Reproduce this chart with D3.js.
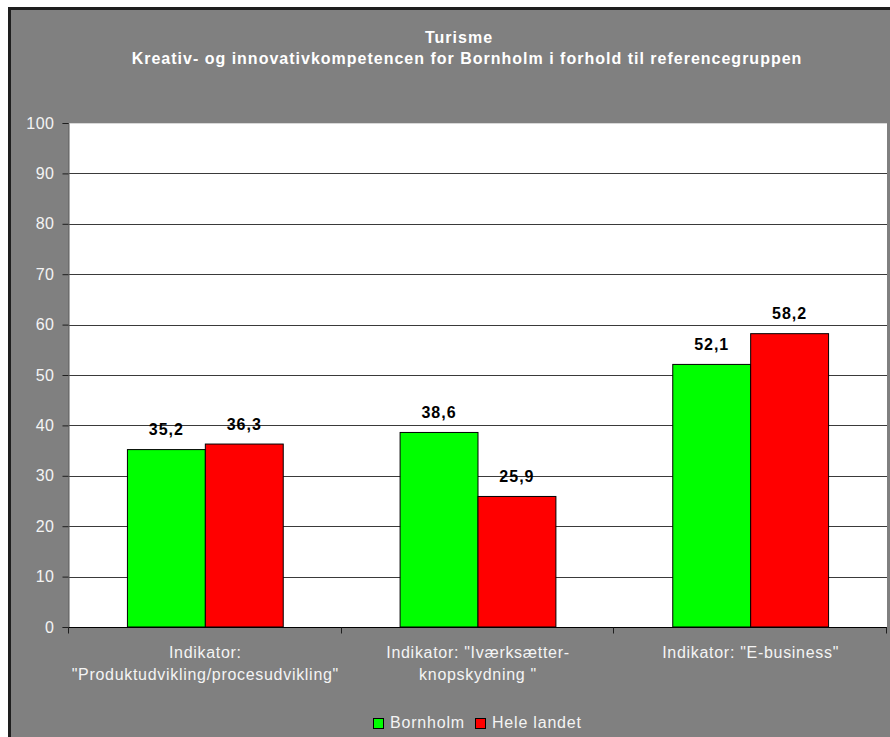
<!DOCTYPE html>
<html>
<head>
<meta charset="utf-8">
<script src="https://cdn.jsdelivr.net/npm/d3@7"></script>
<style>
  html, body { margin: 0; padding: 0; background: #fff; }
  svg { display: block; font-family: "Liberation Sans", Arial, sans-serif; }
</style>
</head>
<body>
<svg id="chart" width="890" height="737"></svg>
<script>
// Chart data
const categories = [
  ["Indikator:", "\"Produktudvikling/procesudvikling\""],
  ["Indikator: \"Iværksætter-", "knopskydning \""],
  ["Indikator: \"E-business\""]
];
const seriesNames = ["Bornholm", "Hele landet"];
const bornholm = [35.2, 38.6, 52.1];
const heleLandet = [36.3, 25.9, 58.2];
const yTicks = [0, 10, 20, 30, 40, 50, 60, 70, 80, 90, 100];
const titleLines = ["Turisme", "Kreativ- og innovativkompetencen for Bornholm i forhold til referencegruppen"];
const colors = ["#00ff00", "#ff0000"];

const svg = d3.select("#chart");

// Outer chart frame (runs past the window on the right and bottom)
svg.append("rect")
  .attr("x", 9.5).attr("y", 8.5)
  .attr("width", 1000).attr("height", 1000)
  .attr("fill", "#808080")
  .attr("stroke", "#1e1e1e").attr("stroke-width", 3);

const plot = { left: 69, right: 887, top: 123, bottom: 627 };

const x0 = d3.scaleBand()
  .domain(d3.range(categories.length))
  .range([plot.left, plot.right])
  .paddingInner(0).paddingOuter(0);

// two bars per group with a 150% gap between groups
const x1 = d3.scaleBand()
  .domain(d3.range(seriesNames.length))
  .range([0, x0.bandwidth()])
  .paddingOuter(0.75).paddingInner(0);

const y = d3.scaleLinear().domain([0, 100]).range([plot.bottom, plot.top]);

// Plot background
svg.append("rect")
  .attr("x", plot.left).attr("y", plot.top)
  .attr("width", plot.right - plot.left).attr("height", plot.bottom - plot.top)
  .attr("fill", "#ffffff");

// Gridlines
svg.append("g")
  .selectAll("line")
  .data(yTicks.filter(t => t > 0))
  .join("line")
  .attr("x1", plot.left).attr("x2", plot.right)
  .attr("y1", d => Math.round(y(d)) + 0.5).attr("y2", d => Math.round(y(d)) + 0.5)
  .attr("stroke", d => d === 100 ? "#d8d8d8" : "#3a3a3a")
  .attr("stroke-width", 1);

// Y axis
const yAxis = svg.append("g")
  .attr("transform", `translate(${plot.left - 0.5},0)`)
  .call(d3.axisLeft(y).tickValues(yTicks).tickSize(6).tickPadding(8));
yAxis.select(".domain").attr("stroke", "#5a5a5a");
yAxis.selectAll(".tick line").attr("stroke", "#1e1e1e");
yAxis.selectAll(".tick text")
  .attr("fill", "#f4f4f4")
  .attr("font-size", 16)
  .attr("letter-spacing", 0.5)
  .attr("font-family", "Liberation Sans, Arial, sans-serif");

// Bars
const groups = svg.append("g")
  .selectAll("g")
  .data(d3.range(categories.length))
  .join("g")
  .attr("transform", i => `translate(${x0(i)},0)`);

const series = [bornholm, heleLandet];
groups.selectAll("rect")
  .data(i => series.map((s, k) => ({ k, v: s[i] })))
  .join("rect")
  .attr("x", d => x1(d.k))
  .attr("y", d => y(d.v))
  .attr("width", x1.bandwidth())
  .attr("height", d => y(0) - y(d.v))
  .attr("fill", d => colors[d.k])
  .attr("stroke", "#000")
  .attr("stroke-width", 1);

// Value labels
groups.selectAll("text.val")
  .data(i => series.map((s, k) => ({ k, v: s[i] })))
  .join("text")
  .attr("class", "val")
  .attr("x", d => x1(d.k) + x1.bandwidth() / 2)
  .attr("y", d => y(d.v) - 14.5)
  .attr("text-anchor", "middle")
  .attr("font-size", 16)
  .attr("letter-spacing", 1)
  .attr("font-weight", "bold")
  .attr("fill", "#000")
  .text(d => d3.format(".1f")(d.v).replace(".", ","));

// X axis
const xAxis = svg.append("g")
  .attr("transform", `translate(0,${plot.bottom + 0.5})`);
xAxis.append("line")
  .attr("x1", plot.left).attr("x2", plot.right)
  .attr("stroke", "#000");
xAxis.selectAll("line.tick")
  .data(d3.range(categories.length + 1))
  .join("line")
  .attr("class", "tick")
  .attr("x1", i => Math.round(plot.left + i * x0.bandwidth()) - 0.5)
  .attr("x2", i => Math.round(plot.left + i * x0.bandwidth()) - 0.5)
  .attr("y1", 0).attr("y2", 6)
  .attr("stroke", "#1e1e1e");

// Category labels
const catText = svg.append("g")
  .selectAll("text")
  .data(categories)
  .join("text")
  .attr("text-anchor", "middle")
  .attr("font-size", 16)
  .attr("letter-spacing", 0.7)
  .attr("fill", "#f4f4f4");
catText.selectAll("tspan")
  .data((d, i) => d.map(line => ({ line, i })))
  .join("tspan")
  .attr("x", d => x0(d.i) + x0.bandwidth() / 2)
  .attr("y", (d, j) => 658 + j * 22)
  .text(d => d.line);

// Title
const titleX = [459, 467];
svg.append("g")
  .selectAll("text")
  .data(titleLines)
  .join("text")
  .attr("x", (d, i) => titleX[i])
  .attr("y", (d, i) => 43 + i * 21)
  .attr("text-anchor", "middle")
  .attr("font-size", 16)
  .attr("letter-spacing", 1)
  .attr("font-weight", "bold")
  .attr("fill", "#ffffff")
  .text(d => d);

// Legend
const legend = svg.append("g").attr("transform", "translate(373,718)");
const legendX = [0, 102];
seriesNames.forEach((name, k) => {
  const g = legend.append("g").attr("transform", `translate(${legendX[k]},0)`);
  g.append("rect")
    .attr("x", 0.5).attr("y", 0.5)
    .attr("width", 10).attr("height", 10)
    .attr("fill", colors[k]).attr("stroke", "#000");
  g.append("text")
    .attr("x", 17).attr("y", 10)
    .attr("font-size", 16)
    .attr("letter-spacing", 0.8)
    .attr("fill", "#f4f4f4")
    .text(name);
});
</script>
</body>
</html>
